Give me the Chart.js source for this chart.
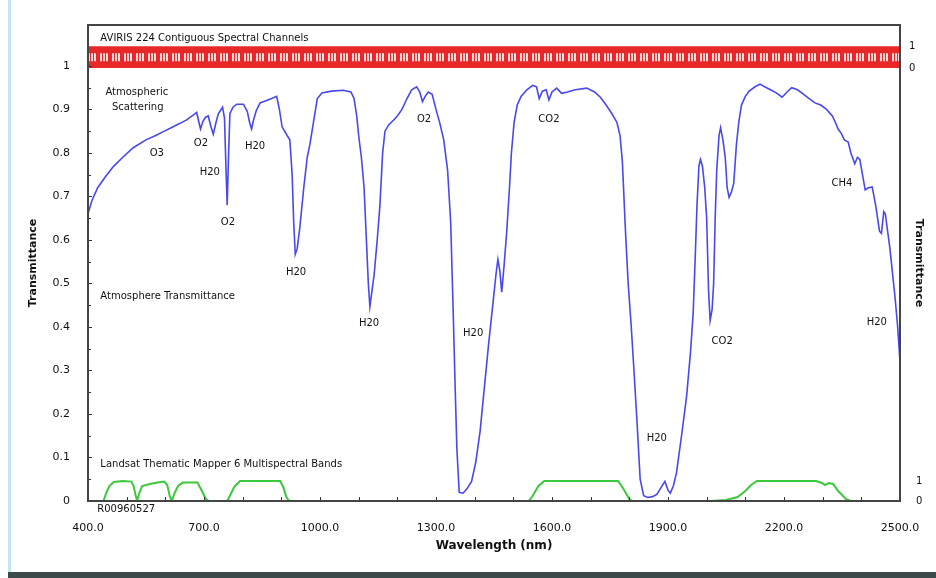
<!DOCTYPE html>
<html>
<head>
<meta charset="utf-8">
<script src="https://cdn.jsdelivr.net/npm/chart.js@4.4.1/dist/chart.umd.min.js"></script>
<style>
	body { margin: 0; background: #fff; }
	.chart-container { position: relative; width: 936px; height: 578px; }
	.edge-left { position: absolute; left: 8px; top: 0; width: 3px; height: 573px; background: #c4e6ec; }
	.edge-bottom { position: absolute; left: 8px; top: 572px; width: 928px; height: 6px; background: #3b4b4c; }
</style>
</head>
<body>
<div class="chart-container">
	<canvas id="chart"></canvas>
	<div class="edge-left"></div>
	<div class="edge-bottom"></div>
</div>
<script>
// atmospheric transmittance, [wavelength nm, transmittance]
const transmittance = [
	[400, 0.66], [410, 0.69], [425, 0.72], [445, 0.745], [465, 0.768], [490, 0.79], [517, 0.812],
	[550, 0.83], [575, 0.84], [595, 0.849], [615, 0.858], [638, 0.868], [655, 0.876], [672, 0.887],
	[681, 0.893], [687, 0.87], [691, 0.855], [697, 0.872], [704, 0.882], [711, 0.885], [718, 0.86],
	[724, 0.843], [731, 0.87], [737, 0.89], [748, 0.905], [753, 0.88], [757, 0.76], [760, 0.68],
	[763, 0.78], [767, 0.89], [775, 0.905], [785, 0.912], [802, 0.912], [812, 0.895], [818, 0.87],
	[823, 0.855], [828, 0.875], [835, 0.897], [845, 0.915], [860, 0.92], [875, 0.925], [888, 0.93],
	[895, 0.9], [902, 0.86], [915, 0.84], [922, 0.83], [928, 0.75], [932, 0.64], [936, 0.567],
	[941, 0.58], [948, 0.63], [958, 0.72], [967, 0.79], [974, 0.82], [983, 0.87], [993, 0.925],
	[1005, 0.938], [1030, 0.942], [1060, 0.944], [1080, 0.94], [1088, 0.925], [1095, 0.885],
	[1100, 0.84], [1107, 0.79], [1114, 0.72], [1120, 0.6], [1125, 0.5], [1129, 0.447], [1134, 0.48],
	[1140, 0.52], [1148, 0.6], [1155, 0.68], [1162, 0.8], [1168, 0.85], [1178, 0.865], [1190, 0.875],
	[1200, 0.885], [1212, 0.9], [1225, 0.925], [1237, 0.945], [1250, 0.952], [1258, 0.94],
	[1265, 0.918], [1272, 0.93], [1280, 0.94], [1290, 0.935], [1300, 0.9], [1310, 0.868],
	[1320, 0.83], [1330, 0.76], [1338, 0.64], [1344, 0.45], [1349, 0.28], [1354, 0.12], [1360, 0.02],
	[1370, 0.018], [1380, 0.028], [1392, 0.045], [1403, 0.09], [1414, 0.16], [1425, 0.26],
	[1436, 0.36], [1448, 0.46], [1455, 0.52], [1460, 0.555], [1465, 0.53], [1470, 0.48], [1476, 0.54],
	[1483, 0.62], [1490, 0.72], [1495, 0.8], [1502, 0.87], [1510, 0.91], [1520, 0.93], [1535, 0.945],
	[1550, 0.955], [1560, 0.952], [1567, 0.925], [1575, 0.942], [1585, 0.945], [1592, 0.922],
	[1600, 0.94], [1612, 0.949], [1625, 0.937], [1640, 0.94], [1660, 0.945], [1690, 0.949],
	[1710, 0.94], [1725, 0.928], [1740, 0.91], [1755, 0.89], [1768, 0.87], [1776, 0.84], [1782, 0.78],
	[1790, 0.62], [1797, 0.5], [1805, 0.4], [1812, 0.3], [1820, 0.18], [1828, 0.05], [1837, 0.012],
	[1848, 0.008], [1860, 0.01], [1871, 0.015], [1880, 0.028], [1892, 0.045], [1900, 0.025],
	[1906, 0.018], [1914, 0.035], [1922, 0.065], [1935, 0.15], [1948, 0.24], [1958, 0.34],
	[1965, 0.43], [1970, 0.55], [1975, 0.68], [1980, 0.77], [1984, 0.785], [1989, 0.77], [1995, 0.72],
	[2000, 0.65], [2005, 0.48], [2009, 0.415], [2014, 0.44], [2018, 0.5], [2022, 0.65], [2026, 0.76],
	[2032, 0.84], [2036, 0.858], [2042, 0.83], [2048, 0.79], [2053, 0.72], [2058, 0.698], [2064, 0.71],
	[2070, 0.73], [2077, 0.82], [2083, 0.87], [2090, 0.91], [2100, 0.93], [2110, 0.942], [2125, 0.952],
	[2138, 0.958], [2150, 0.952], [2165, 0.945], [2180, 0.938], [2195, 0.928], [2208, 0.94],
	[2220, 0.95], [2235, 0.945], [2250, 0.935], [2265, 0.925], [2280, 0.915], [2295, 0.91],
	[2310, 0.9], [2325, 0.885], [2333, 0.87], [2340, 0.855], [2348, 0.845], [2356, 0.83], [2366, 0.825],
	[2373, 0.8], [2383, 0.775], [2390, 0.79], [2396, 0.785], [2403, 0.75], [2410, 0.715], [2418, 0.72],
	[2428, 0.722], [2437, 0.68], [2447, 0.62], [2452, 0.615], [2458, 0.665], [2462, 0.66], [2468, 0.62],
	[2474, 0.58], [2481, 0.52], [2487, 0.47], [2494, 0.4], [2500, 0.32]
];

// Landsat TM band response (0..1), null = gap
const landsatBands = [
	[440, 0], [447, 0.4], [455, 0.75], [467, 0.95], [490, 1.0], [512, 0.97], [518, 0.75], [523, 0.3],
	[527, 0.02], [532, 0.35], [540, 0.75], [560, 0.85], [580, 0.93], [597, 0.97], [605, 0.8],
	[612, 0.2], [617, 0.02], [624, 0.4], [633, 0.75], [645, 0.92], [683, 0.92], [692, 0.6],
	[705, 0.1], [712, 0], [760, 0], [768, 0.3], [778, 0.7], [793, 1], [897, 1], [905, 0.7], [913, 0.2],
	[920, 0], [930, null],
	[1505, 0], [1540, 0], [1548, 0.2], [1565, 0.75], [1580, 1], [1771, 1], [1785, 0.6], [1800, 0.1],
	[1808, 0], [1850, 0], [1860, null],
	[1960, 0], [2010, 0], [2050, 0.05], [2080, 0.2], [2100, 0.5], [2115, 0.8], [2130, 1], [2283, 1],
	[2298, 0.9], [2306, 0.8], [2316, 0.9], [2327, 0.85], [2340, 0.5], [2360, 0.1], [2372, 0], [2400, 0]
];

// AVIRIS channel strip, spans whole range
const avirisRange = [400, 2500];
const avirisLow = 0.995;
const avirisHigh = 1.045;

const xTicks = [400, 700, 1000, 1300, 1600, 1900, 2200, 2500];
const xTickLabels = ['400.0', '700.0', '1000.0', '1300.0', '1600.0', '1900.0', '2200.0', '2500.0'];
const yTicks = [0, 0.1, 0.2, 0.3, 0.4, 0.5, 0.6, 0.7, 0.8, 0.9, 1];
const yTickLabels = ['0', '0.1', '0.2', '0.3', '0.4', '0.5', '0.6', '0.7', '0.8', '0.9', '1'];

// absorber labels: text, wavelength, transmittance
const gasLabels = [
	['O3', 578, 0.80], ['O2', 692, 0.823], ['H20', 715, 0.756], ['O2', 762, 0.641],
	['H20', 832, 0.816], ['H20', 938, 0.526], ['H20', 1127, 0.409], ['O2', 1269, 0.876],
	['H20', 1396, 0.386], ['CO2', 1592, 0.876], ['H20', 1871, 0.145], ['CO2', 2040, 0.366],
	['CH4', 2350, 0.731], ['H20', 2440, 0.411]
];

// captions, left aligned
const captions = [
	['AVIRIS 224 Contiguous Spectral Channels', 432, 1.064],
	['Atmospheric', 445, 0.938],
	['Scattering', 462, 0.904],
	['Atmosphere Transmittance', 432, 0.471],
	['Landsat Thematic Mapper 6 Multispectral Bands', 432, 0.085],
	['R00960527', 424, -0.02]
];

const toPoints = arr => arr.map(p => ({ x: p[0], y: p[1] }));
const avirisMid = (avirisLow + avirisHigh) / 2;

const frameAndTicks = {
	id: 'frameAndTicks',
	afterDatasetsDraw(chart) {
		const { ctx, chartArea: a, scales } = chart;
		const x = scales.x;
		const y = scales.y;

		ctx.save();
		ctx.strokeStyle = '#333';
		ctx.lineWidth = 1;
		// inward ticks on the wavelength axis
		for (let w = 400; w <= 2500; w += 100) {
			const px = Math.round(x.getPixelForValue(w)) + 0.5;
			ctx.beginPath();
			ctx.moveTo(px, a.bottom);
			ctx.lineTo(px, a.bottom - 4);
			ctx.stroke();
		}
		// inward ticks on the transmittance axis
		for (let i = 0; i <= 20; i++) {
			const py = Math.round(y.getPixelForValue(i * 0.05)) + 0.5;
			ctx.beginPath();
			ctx.moveTo(a.left, py);
			ctx.lineTo(a.left + (i % 2 ? 3 : 4), py);
			ctx.stroke();
		}

		ctx.strokeStyle = '#444';
		ctx.lineWidth = 2;
		ctx.strokeRect(a.left, a.top, a.right - a.left, a.bottom - a.top);

		ctx.fillStyle = '#111';
		ctx.font = '10px "DejaVu Sans"';
		ctx.textAlign = 'center';
		ctx.textBaseline = 'middle';
		gasLabels.forEach(l => {
			ctx.fillText(l[0], x.getPixelForValue(l[1]), y.getPixelForValue(l[2]));
		});

		ctx.textAlign = 'left';
		captions.forEach(l => {
			ctx.fillText(l[0], x.getPixelForValue(l[1]), y.getPixelForValue(l[2]));
		});

		// scale marks for the strip
		ctx.fillText('1', a.right + 9, y.getPixelForValue(avirisHigh));
		ctx.fillText('0', a.right + 9, y.getPixelForValue(avirisLow));
		ctx.restore();
	}
};

const ctx = document.getElementById('chart').getContext('2d');

const config = {
	type: 'line',
	data: {
		// first dataset is drawn on top
		datasets: [
			{
				label: 'Transmittance',
				data: toPoints(transmittance),
				borderColor: 'rgb(72, 72, 238)',
				borderWidth: 1.6,
				pointRadius: 0,
				fill: false,
				yAxisID: 'y'
			},
			{
				label: 'Landsat TM',
				data: toPoints(landsatBands),
				borderColor: 'rgb(60, 200, 60)',
				borderWidth: 2,
				pointRadius: 0,
				fill: false,
				spanGaps: false,
				yAxisID: 'yb'
			},
			{
				label: 'AVIRIS channels',
				data: toPoints([[avirisRange[0], avirisMid], [avirisRange[1], avirisMid]]),
				borderColor: 'rgba(255, 228, 228, 0.95)',
				borderWidth: 8,
				borderDash: [2, 1, 2, 1, 2, 4],
				borderCapStyle: 'butt',
				pointRadius: 0,
				fill: false,
				yAxisID: 'y'
			},
			{
				label: 'AVIRIS',
				data: toPoints([[avirisRange[0], avirisHigh], [avirisRange[1], avirisHigh]]),
				borderWidth: 0,
				backgroundColor: 'rgb(232, 40, 40)',
				fill: { value: avirisLow },
				pointRadius: 0,
				yAxisID: 'y'
			}
		]
	},
	options: {
		responsive: true,
		maintainAspectRatio: false,
		animation: false,
		layout: { padding: { top: 25, left: 27, right: 11, bottom: 25 } },
		plugins: {
			legend: { display: false },
			tooltip: { enabled: false }
		},
		scales: {
			x: {
				type: 'linear',
				min: 400,
				max: 2500,
				afterBuildTicks: axis => { axis.ticks = xTicks.map(v => ({ value: v })); },
				afterFit: axis => { axis.height = 52; },
				grid: { display: false },
				border: { display: false },
				ticks: {
					padding: 13,
					maxRotation: 0,
					autoSkip: false,
					color: '#111',
					font: { family: 'DejaVu Sans', size: 11 },
					callback: v => xTickLabels[xTicks.indexOf(v)]
				},
				title: {
					display: true,
					text: 'Wavelength (nm)',
					color: '#111',
					padding: 0,
					font: { family: 'DejaVu Sans', size: 12, weight: 'bold' }
				}
			},
			y: {
				position: 'left',
				min: 0,
				max: 1.094,
				afterBuildTicks: axis => { axis.ticks = yTicks.map(v => ({ value: v })); },
				afterFit: axis => { axis.width = 61; },
				grid: { display: false },
				border: { display: false },
				ticks: {
					padding: 10,
					autoSkip: false,
					color: '#111',
					font: { family: 'DejaVu Sans', size: 11 },
					callback: v => yTickLabels[yTicks.indexOf(v)]
				},
				title: {
					display: true,
					text: 'Transmittance',
					color: '#111',
					padding: 0,
					font: { family: 'DejaVu Sans', size: 11, weight: 'bold' }
				}
			},
			yb: {
				position: 'right',
				min: 0,
				max: 23.8,
				afterBuildTicks: axis => { axis.ticks = [{ value: 0 }, { value: 1 }]; },
				afterFit: axis => { axis.width = 25; },
				grid: { display: false },
				border: { display: false },
				ticks: {
					padding: 8,
					color: '#111',
					font: { family: 'DejaVu Sans', size: 10 },
					callback: v => String(v)
				},
				title: {
					display: true,
					text: 'Transmittance',
					color: '#111',
					padding: 0,
					font: { family: 'DejaVu Sans', size: 11, weight: 'bold' }
				}
			}
		}
	},
	plugins: [frameAndTicks]
};

new Chart(ctx, config);
</script>
</body>
</html>
